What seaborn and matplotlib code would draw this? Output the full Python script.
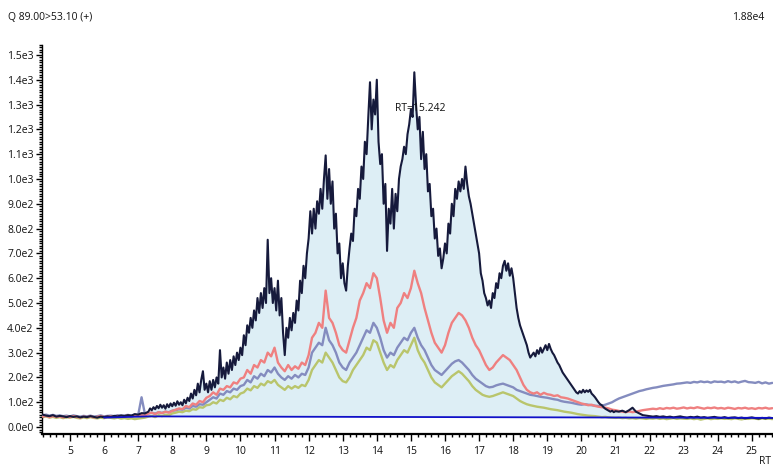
import numpy as np
import pandas as pd
import matplotlib
matplotlib.use("Agg")
import matplotlib.pyplot as plt
import seaborn as sns
from matplotlib.ticker import MultipleLocator, FuncFormatter

sns.set_style("white")
plt.rcParams['font.family'] = ['Open Sans', 'DejaVu Sans']

# ---------------- data ----------------
title_left = "Q 89.00>53.10 (+)"
title_right = "1.88e4"
peak_label = "RT=15.242"
x_label = "RT"

# dark (main) trace: three pieces with different sampling steps
dark_pre_start, dark_pre_step = 4.2, 0.1
dark_pre = [50, 46, 44, 48, 42, 45, 43, 40, 44, 41,
            43, 39, 42, 40, 44, 41, 38, 42, 40, 43,
            41, 45, 43, 47, 44, 48, 46, 52, 50, 56, 55]
dark_main_start, dark_main_step = 7.3, 0.05
dark_main = [62, 75, 68, 80, 72, 85, 76, 90, 78, 88,
             74, 92, 80, 95, 84, 98, 86, 104, 90, 100,
             88, 110, 96, 118, 105, 135, 115, 150, 128, 175,
             140, 190, 225, 150, 175, 140, 185, 150, 190, 160,
             200, 175, 310, 200, 240, 195, 260, 215, 270, 230,
             285, 250, 300, 270, 320, 290, 370, 330, 410, 380,
             440, 400, 470, 430, 520, 460, 540, 480, 560, 500,
             755, 540, 600, 500, 560, 470, 590, 450, 520, 380,
             290, 400, 360, 440, 390, 460, 420, 510, 470, 590,
             540, 650, 600, 700, 760, 870, 780, 880, 800, 910,
             860, 960, 880, 1000, 1095, 920, 1040, 900, 990, 800,
             860, 700, 740, 600, 660, 580, 550, 650, 720, 780,
             750, 880, 850, 960, 920, 1050, 1000, 1150, 1100, 1250,
             1390, 1200, 1320, 1260, 1400, 1150, 1060, 1100, 900, 980,
             710, 880, 820, 960, 800, 940, 870, 1000, 1050, 1080,
             1130, 1100, 1180, 1220, 1280, 1250, 1430, 1300, 1200, 1250,
             1080, 1190, 1040, 1100, 950, 980, 850, 880, 760, 800,
             690, 720, 640, 680, 740, 700, 820, 780, 900, 850,
             960, 920, 990, 950, 1000, 960, 1050, 980, 930, 900,
             860, 820, 780, 740, 700, 620, 590, 540, 520, 490,
             510, 480, 540, 520, 580, 560, 620, 600, 650, 670,
             630, 660, 610, 640, 600, 540, 480, 440, 410, 390,
             370, 350, 330, 300, 280, 290, 300, 285, 310, 295,
             320, 300, 315, 330, 310, 335, 315, 300, 290, 275,
             260, 250, 235, 220, 210, 200, 190, 180, 170, 160,
             150, 140, 135, 145, 138, 150, 140, 148, 142, 150,
             135, 128, 120, 110, 100, 92, 88, 80, 74, 70,
             66, 62, 66, 60, 64]
dark_tail_start, dark_tail_step = 21.1, 0.1
dark_tail = [62, 66, 60, 68, 78, 62, 55, 48, 46, 44,
             42, 44, 41, 43, 40, 42, 39, 41, 43, 40,
             38, 41, 39, 42, 38, 40, 37, 39, 41, 38,
             37, 40, 36, 38, 39, 36, 38, 35, 37, 39,
             36, 34, 37, 35, 38, 36]

# other traces sampled every 0.1 min from 4.2
other_start, other_step = 4.2, 0.1
pink = [42, 45, 40, 44, 41, 43, 39, 42, 40, 44, 41, 38, 42, 40, 43, 39, 41, 44, 40, 42,
        43, 41, 45, 42, 44, 46, 43, 47, 45, 48, 46,
        55, 58, 52, 60, 56, 62, 58, 65,
        70, 75, 72, 85, 80, 95, 90, 105, 100, 118,
        125, 140, 130, 155, 150, 165, 160, 180, 175, 195,
        200, 230, 215, 250, 240, 270, 260, 300, 285, 320,
        260, 240, 225, 250, 230, 245, 235, 260, 250, 290,
        360, 380, 420, 400, 550, 440, 420, 380, 330, 310,
        300, 350, 400, 440, 510, 540, 580, 560, 620, 600,
        520, 430, 380, 420, 400, 480, 500, 540, 520, 560,
        630, 580, 540, 480, 430, 380, 340, 320, 300, 330,
        380, 420, 440, 460, 450, 430, 400, 360, 330, 310,
        280, 250, 230, 240, 260, 275, 290, 280, 270, 250,
        230, 200, 170, 150, 140, 135, 140, 130, 138, 132,
        130, 125, 128, 120, 118, 115, 110, 105, 100, 95,
        92, 88, 90, 85, 82, 80, 78, 75, 70, 68,
        65, 62, 60, 63, 60, 62, 65, 68, 70, 72,
        74, 72, 76, 73, 77, 75, 78, 74, 76, 79,
        75, 78, 76, 80, 77, 74, 78, 76, 79, 75,
        77, 74, 78, 76, 73, 77, 75, 78, 74, 76,
        73, 77, 75, 78, 74, 76]
slate = [48, 50, 46, 49, 45, 47, 44, 46, 43, 47, 44, 42, 45, 43, 46, 42, 44, 47, 43, 45,
         46, 44, 48, 45, 47, 49, 46, 50, 48, 120, 52,
         55, 58, 54, 60, 57, 62, 60, 66,
         68, 72, 70, 78, 75, 85, 82, 92, 90, 100,
         110, 120, 115, 135, 130, 145, 140, 155, 150, 165,
         170, 190, 180, 205, 195, 215, 205, 230, 220, 240,
         215, 200, 190, 205, 195, 210, 200, 215, 210, 240,
         300, 320, 340, 330, 400, 350, 330, 300, 260, 240,
         230, 260, 280, 300, 330, 360, 390, 380, 420, 400,
         360, 310, 280, 300, 290, 320, 340, 360, 350, 380,
         400, 360, 330, 310, 280, 250, 230, 220, 210, 225,
         240, 255, 265, 270, 260, 245, 230, 210, 195, 185,
         175, 165, 160, 162, 168, 172, 175, 170, 165, 160,
         150, 145, 140, 135, 130, 128, 125, 122, 120, 118,
         115, 112, 110, 105, 102, 100, 98, 95, 92, 90,
         92, 90, 88, 86, 85, 86, 90, 95, 100, 108,
         115, 120, 125, 130, 135, 140, 145, 148, 152, 155,
         158, 160, 163, 166, 168, 170, 172, 175, 176, 178,
         180, 178, 182, 180, 184, 181, 183, 179, 184, 182,
         183, 180, 185, 181, 184, 179, 183, 186, 181, 180,
         178, 182, 176, 180, 175, 178]
olive = [40, 43, 38, 41, 37, 40, 36, 39, 38, 41, 37, 35, 39, 36, 40, 37, 35, 38, 36, 39,
         37, 35, 38, 34, 36, 33, 35, 32, 34, 36, 38,
         42, 45, 40, 48, 44, 50, 47, 55,
         58, 62, 60, 66, 64, 72, 70, 80, 78, 88,
         90, 100, 95, 110, 105, 118, 112, 125, 120, 135,
         140, 155, 148, 165, 158, 175, 168, 185, 178, 190,
         170, 160, 150, 165, 155, 165, 158, 170, 165, 190,
         230, 250, 270, 260, 300, 280, 260, 230, 200, 185,
         180, 200, 230, 250, 270, 290, 320, 310, 350, 340,
         300, 260, 230, 250, 240, 270, 290, 310, 300, 330,
         360, 310, 280, 260, 230, 200, 180, 170, 160, 175,
         190, 205, 215, 225, 215, 200, 185, 165, 150, 140,
         130, 125, 122, 125, 130, 135, 140, 135, 130, 125,
         115, 105, 98, 92, 88, 85, 82, 80, 78, 75,
         72, 70, 68, 65, 62, 60, 58, 55, 52, 50,
         48, 46, 45, 44, 42, 40, 41, 39, 38, 37,
         38, 36, 37, 35, 36, 34, 36, 35, 33, 35,
         34, 36, 33, 35, 32, 34, 36, 33, 35, 34,
         33, 35, 32, 34, 30, 33, 35, 32, 34, 33,
         35, 33, 34, 32, 35, 33, 31, 34, 33, 35,
         34, 32, 35, 33, 34, 32]

baseline_rt = [6.0, 7.3, 25.6]
baseline_val = [38, 43, 37]
fill_range = (7.3, 21.8)
peak_label_pos = (14.53, 1286)

# ---------------- build series ----------------
def grid(start, step, n):
    return np.round(start + step * np.arange(n), 3)

dark_rt = np.concatenate([grid(dark_pre_start, dark_pre_step, len(dark_pre)),
                          grid(dark_main_start, dark_main_step, len(dark_main)),
                          grid(dark_tail_start, dark_tail_step, len(dark_tail))])
dark_val = np.array(dark_pre + dark_main + dark_tail, dtype=float)

def other_df(vals):
    return pd.DataFrame({"rt": grid(other_start, other_step, len(vals)), "v": vals})

df_dark = pd.DataFrame({"rt": dark_rt, "v": dark_val})
df_pink = other_df(pink)
df_slate = other_df(slate)
df_olive = other_df(olive)
df_base = pd.DataFrame({"rt": baseline_rt, "v": baseline_val})

# ---------------- figure ----------------
W, H = 773, 467
fig = plt.figure(figsize=(W / 100, H / 100), dpi=100)
ax = fig.add_axes([42 / W, 33 / H, (W - 42) / W, (434 - 45) / H])

m = (df_dark.rt >= fill_range[0]) & (df_dark.rt <= fill_range[1])
fr = df_dark.rt[m].values
ax.fill_between(fr, np.interp(fr, baseline_rt, baseline_val), df_dark.v[m].values,
                color="#ddeef5", linewidth=0, zorder=1)

kw = dict(ax=ax, x="rt", y="v", estimator=None, sort=False, legend=False)
sns.lineplot(data=df_olive, color="#b9c56c", linewidth=1.7, zorder=2, **kw)
sns.lineplot(data=df_slate, color="#848cbf", linewidth=1.7, zorder=3, **kw)
sns.lineplot(data=df_pink, color="#ef8080", linewidth=1.7, zorder=4, **kw)
sns.lineplot(data=df_dark, color="#161a3c", linewidth=1.5, zorder=5, **kw)
sns.lineplot(data=df_base, color="#1010c8", linewidth=1.3, zorder=6, **kw)

ax.set_xlim(4.18, 25.62)
ax.set_ylim(-28, 1540)
ax.set_xlabel("")
ax.set_ylabel("")

def yfmt(v, pos):
    if abs(v) < 1e-9:
        return "0.0e0"
    e = int(np.floor(np.log10(abs(v)) + 1e-9))
    return f"{v / 10 ** e:.1f}e{e}"

ax.yaxis.set_major_locator(MultipleLocator(100))
ax.yaxis.set_minor_locator(MultipleLocator(10))
ax.yaxis.set_major_formatter(FuncFormatter(yfmt))
ax.xaxis.set_major_locator(MultipleLocator(1))
ax.xaxis.set_minor_locator(MultipleLocator(0.2))
ax.xaxis.set_major_formatter(FuncFormatter(lambda v, p: f"{v:.0f}"))

ax.tick_params(axis="both", which="major", direction="out", length=4, width=1,
               labelsize=7.5, pad=2, color="black", labelcolor="#111111")
ax.tick_params(axis="both", which="minor", direction="out", length=2, width=1,
               color="black")
ax.tick_params(axis="x", which="major", length=5, pad=4)
ax.tick_params(left=True, bottom=True, which="both")

for s in ["top", "right"]:
    ax.spines[s].set_visible(False)
ax.spines["left"].set_color("black")
ax.spines["left"].set_linewidth(1.0)
ax.spines["bottom"].set_color("black")
ax.spines["bottom"].set_linewidth(1.6)

ax.text(peak_label_pos[0], peak_label_pos[1], peak_label, fontsize=7.5,
        ha="left", va="center", color="#111111", zorder=7)

fig.text(8 / W, 1 - 17 / H, title_left, fontsize=7.5, ha="left", va="center", color="#111111")
fig.text(764 / W, 1 - 17 / H, title_right, fontsize=7.5, ha="right", va="center", color="#111111")
fig.text(765 / W, 1 - 462 / H, x_label, fontsize=7.5, ha="center", va="center", color="#111111")

fig.savefig("out.png", dpi=100)
